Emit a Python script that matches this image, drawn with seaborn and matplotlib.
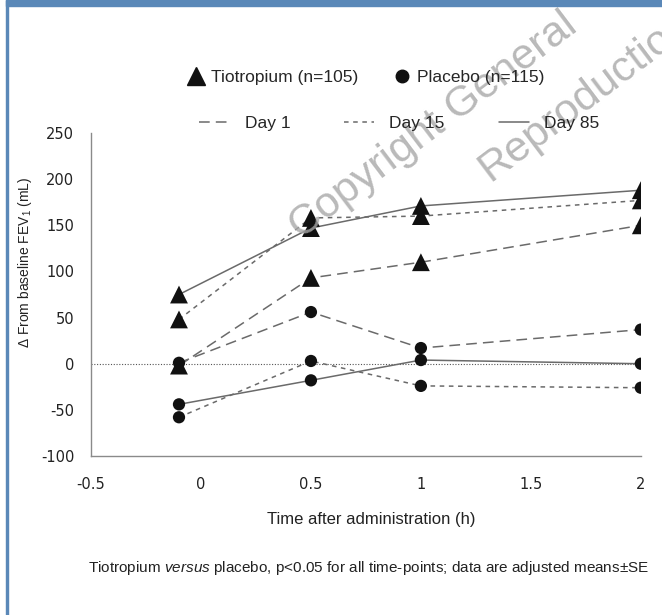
import pandas as pd
import matplotlib.pyplot as plt
import seaborn as sns
from matplotlib.lines import Line2D
from matplotlib.patches import Rectangle

# Data (change from baseline FEV1, mL)
time_h = [-0.1, 0.5, 1, 2]
days = ['Day 1', 'Day 15', 'Day 85']
tio_day1 = [-2, 93, 110, 150]
tio_day15 = [48, 158, 160, 177]
tio_day85 = [75, 147, 171, 188]
pla_day1 = [1, 56, 17, 37]
pla_day15 = [-58, 3, -24, -26]
pla_day85 = [-44, -18, 4, 0]

x_ticks = [-0.5, 0, 0.5, 1, 1.5, 2]
x_labels = ['-0.5', '0', '0.5', '1', '1.5', '2']
y_ticks = [-100, -50, 0, 50, 100, 150, 200, 250]

rows = []
for group, series in [('Tiotropium', [tio_day1, tio_day15, tio_day85]),
                      ('Placebo', [pla_day1, pla_day15, pla_day85])]:
    for day, vals in zip(days, series):
        for t, v in zip(time_h, vals):
            rows.append({'group': group, 'day': day, 'time': t, 'change': v})
df = pd.DataFrame(rows)

sns.set_style("white")
plt.rcParams['font.family'] = ['Liberation Sans', 'DejaVu Sans']
plt.rcParams['axes.unicode_minus'] = False
plt.rcParams['mathtext.fontset'] = 'custom'
plt.rcParams['mathtext.it'] = 'Liberation Sans:italic'
plt.rcParams['mathtext.rm'] = 'Liberation Sans'

fig = plt.figure(figsize=(6.62, 6.15), dpi=100)
ax = fig.add_axes([0.1375, 0.2585, 0.8305, 0.5252])

line_col = '#6a6a6a'
txt_col = '#222222'
dash_map = {'Day 1': (7, 4), 'Day 15': (3, 3), 'Day 85': ''}

ax.axhline(0, color='#555555', lw=0.8, ls=(0, (1, 1.5)), zorder=1)

sns.lineplot(data=df, x='time', y='change', units='group', style='day',
             estimator=None, dashes=dash_map, color=line_col, lw=1.1,
             legend=False, ax=ax, zorder=2)
sns.scatterplot(data=df[df.group == 'Tiotropium'], x='time', y='change',
                marker='^', s=165, color='#111111', edgecolor='none',
                legend=False, ax=ax, zorder=3)
sns.scatterplot(data=df[df.group == 'Placebo'], x='time', y='change',
                marker='o', s=78, color='#111111', edgecolor='none',
                legend=False, ax=ax, zorder=3)

ax.set_xlim(-0.5, 2)
ax.set_ylim(-100, 250)
ax.set_xticks(x_ticks)
ax.set_xticklabels(x_labels)
ax.set_yticks(y_ticks)
for s in ['top', 'right']:
    ax.spines[s].set_visible(False)
for s in ['left', 'bottom']:
    ax.spines[s].set_color('#8a8a8a')
    ax.spines[s].set_linewidth(1.0)
ax.tick_params(axis='both', direction='out', length=5, width=1, color='#8a8a8a',
               labelsize=10.5, labelcolor=txt_col)
ax.tick_params(axis='x', pad=10)
ax.tick_params(axis='y', pad=7)
for lab in ax.get_xticklabels() + ax.get_yticklabels():
    lab.set_family('DejaVu Sans')

ax.set_xlabel('Time after administration (h)', fontsize=12, color=txt_col)
ax.xaxis.set_label_coords(0.51, -0.198)
ax.xaxis.label.set_va('center')
ax.set_ylabel(r'$\Delta$ From baseline FEV$_1$ (mL)', fontsize=10, color=txt_col)
ax.yaxis.set_label_coords(-0.12, 0.60)
ax.yaxis.label.set_va('center')

# Legends
h1 = [Line2D([], [], marker='^', color='#111111', ls='none', markersize=13),
      Line2D([], [], marker='o', color='#111111', ls='none', markersize=9)]
fig.legend(h1, ['Tiotropium (n=105)', 'Placebo (n=115)'], ncol=2,
           loc='center', bbox_to_anchor=(0.553, 1 - 77 / 615), frameon=False,
           fontsize=12.5, handlelength=1.0, handletextpad=0.37, columnspacing=2.0,
           borderpad=0, borderaxespad=0)
h2 = [Line2D([], [], color=line_col, lw=1.1, dashes=dash_map['Day 1']),
      Line2D([], [], color=line_col, lw=1.1, dashes=dash_map['Day 15']),
      Line2D([], [], color=line_col, lw=1.1)]
fig.legend(h2, days, ncol=3, loc='center', bbox_to_anchor=(0.603, 1 - 123 / 615),
           frameon=False, fontsize=12.5, handlelength=1.75,
           handletextpad=0.86, columnspacing=3.1, borderpad=0, borderaxespad=0)

fig.text(0.133, 1 - 568 / 615,
         r'Tiotropium $\it{versus}$ placebo, p<0.05 for all time-points; data are adjusted means±SE',
         fontsize=11, color=txt_col, va='center')

# Watermark
wm = dict(fontsize=31, color='#a8a8a8', alpha=0.8, rotation=37,
          rotation_mode='anchor', ha='left', va='baseline')
fig.text(301 / 662, 1 - 240 / 615, 'Copyright General', **wm)
fig.text(490 / 662, 1 - 182 / 615, 'Reproduction', **wm)

# Blue frame
border = '#5a88b8'
fig.patches.append(Rectangle((0.009, 0.99), 0.991, 0.01, transform=fig.transFigure,
                             color=border, zorder=10))
fig.patches.append(Rectangle((0.009, 0), 0.0035, 1, transform=fig.transFigure,
                             color=border, zorder=10))

fig.savefig('out.png', dpi=100)
